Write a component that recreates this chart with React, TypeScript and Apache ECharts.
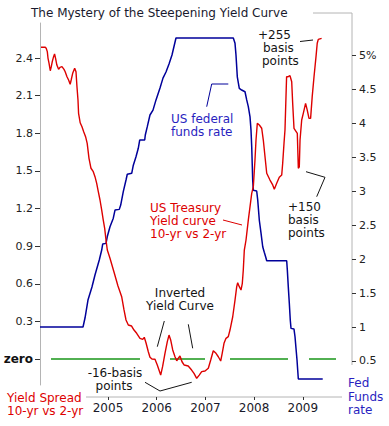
import React, { useEffect, useRef } from "react";
import * as echarts from "echarts";

// Yield spread 10-yr minus 2-yr (percentage points), [year, value]
const spreadPoints: [number, number][] = [
  [2003.624, 2.486], [2003.712, 2.486], [2003.731, 2.478], [2003.754, 2.451], [2003.768, 2.4],
  [2003.789, 2.36], [2003.815, 2.299], [2003.835, 2.329], [2003.856, 2.371], [2003.883, 2.411],
  [2003.903, 2.432], [2003.924, 2.398], [2003.95, 2.344], [2003.986, 2.31], [2004.014, 2.326],
  [2004.055, 2.331], [2004.097, 2.31], [2004.121, 2.291], [2004.158, 2.251], [2004.191, 2.225],
  [2004.224, 2.191], [2004.244, 2.225], [2004.275, 2.278], [2004.316, 2.318], [2004.343, 2.291],
  [2004.363, 2.171], [2004.384, 2.065], [2004.396, 1.959], [2004.429, 1.884], [2004.466, 1.852],
  [2004.501, 1.813], [2004.54, 1.773], [2004.573, 1.72], [2004.61, 1.6], [2004.651, 1.521],
  [2004.698, 1.494], [2004.733, 1.454], [2004.768, 1.401], [2004.801, 1.334], [2004.836, 1.268],
  [2004.871, 1.188], [2004.903, 1.108], [2004.932, 1.042], [2004.959, 0.949], [2004.986, 0.869],
  [2005.041, 0.803], [2005.123, 0.694], [2005.205, 0.582], [2005.246, 0.537], [2005.281, 0.497],
  [2005.329, 0.391], [2005.37, 0.311], [2005.417, 0.271], [2005.485, 0.263], [2005.534, 0.231],
  [2005.589, 0.205], [2005.657, 0.165], [2005.713, 0.157], [2005.745, 0.173], [2005.78, 0.13],
  [2005.828, 0.058], [2005.862, 0.014], [2005.903, 0.0], [2005.965, -0.002], [2006.012, -0.048],
  [2006.047, -0.088], [2006.082, -0.128], [2006.121, -0.061], [2006.17, 0.045], [2006.218, 0.138],
  [2006.253, 0.191], [2006.287, 0.152], [2006.329, 0.072], [2006.376, 0.018], [2006.411, -0.014],
  [2006.444, 0.006], [2006.478, 0.024], [2006.52, -0.022], [2006.565, -0.048], [2006.647, -0.056],
  [2006.717, -0.088], [2006.766, -0.114], [2006.821, -0.154], [2006.873, -0.128], [2006.924, -0.101],
  [2006.992, -0.096], [2007.06, -0.074], [2007.109, -0.008], [2007.162, 0.066], [2007.218, 0.045],
  [2007.265, 0.018], [2007.314, -0.016], [2007.345, 0.045], [2007.382, 0.125], [2007.423, 0.165],
  [2007.47, 0.178], [2007.505, 0.231], [2007.561, 0.337], [2007.608, 0.47], [2007.643, 0.577],
  [2007.663, 0.608], [2007.696, 0.577], [2007.731, 0.55], [2007.758, 0.604], [2007.778, 0.71],
  [2007.799, 0.869], [2007.834, 0.949], [2007.881, 1.108], [2007.951, 1.321], [2007.984, 1.374],
  [2008.018, 1.587], [2008.039, 1.746], [2008.066, 1.88], [2008.107, 1.866], [2008.156, 1.84],
  [2008.189, 1.746], [2008.224, 1.613], [2008.259, 1.481], [2008.326, 1.427], [2008.382, 1.388],
  [2008.415, 1.353], [2008.464, 1.401], [2008.517, 1.449], [2008.567, 1.467], [2008.587, 1.561],
  [2008.614, 1.72], [2008.634, 1.826], [2008.667, 2.251], [2008.7, 2.251], [2008.737, 2.259],
  [2008.772, 2.211], [2008.792, 2.039], [2008.819, 1.84], [2008.887, 1.8], [2008.908, 1.521],
  [2008.928, 1.533], [2008.943, 1.746], [2008.977, 1.906], [2009.01, 1.959], [2009.057, 2.039],
  [2009.09, 1.986], [2009.127, 1.919], [2009.16, 1.919], [2009.193, 2.092], [2009.23, 2.251],
  [2009.271, 2.411], [2009.296, 2.518], [2009.318, 2.549], [2009.386, 2.557],
];

// US federal funds rate (%), [year, value]
const fedPoints: [number, number][] = [
  [2003.604, 1.0], [2004.487, 1.0], [2004.528, 1.132], [2004.589, 1.397], [2004.671, 1.588],
  [2004.733, 1.765], [2004.821, 1.985], [2004.871, 2.132], [2004.891, 2.22], [2004.959, 2.23],
  [2004.986, 2.33], [2005.041, 2.475], [2005.109, 2.6], [2005.144, 2.72], [2005.232, 2.73],
  [2005.261, 2.794], [2005.314, 2.99], [2005.37, 3.162], [2005.396, 3.246], [2005.487, 3.26],
  [2005.52, 3.38], [2005.575, 3.504], [2005.622, 3.628], [2005.651, 3.75], [2005.754, 3.75],
  [2005.766, 3.824], [2005.807, 3.946], [2005.862, 4.118], [2005.924, 4.19], [2005.986, 4.34],
  [2006.068, 4.515], [2006.129, 4.66], [2006.191, 4.75], [2006.253, 4.868], [2006.314, 5.0],
  [2006.396, 5.25], [2007.573, 5.25], [2007.608, 5.172], [2007.628, 5.0], [2007.655, 4.68],
  [2007.696, 4.51], [2007.745, 4.485], [2007.813, 4.46], [2007.848, 4.34], [2007.881, 4.24],
  [2007.916, 4.09], [2007.936, 3.9], [2007.951, 3.65], [2007.963, 3.36], [2007.971, 3.16],
  [2007.984, 3.01], [2008.053, 3.0], [2008.074, 2.87], [2008.107, 2.57], [2008.142, 2.38],
  [2008.177, 2.18], [2008.209, 2.1], [2008.238, 2.03], [2008.259, 1.975], [2008.669, 1.975],
  [2008.682, 1.84], [2008.702, 1.59], [2008.723, 1.35], [2008.743, 1.1], [2008.758, 0.98],
  [2008.819, 0.97], [2008.84, 0.857], [2008.86, 0.687], [2008.881, 0.515], [2008.895, 0.368],
  [2008.908, 0.235], [2009.409, 0.235],
];

// Zero reference line segments (start year, end year)
const zeroSegments: [number, number][] = [
  [2003.83, 2005.657], [2006.273, 2006.992], [2007.505, 2008.696], [2009.127, 2009.682],
];

const yearTicks = [2005, 2006, 2007, 2008, 2009];
const spreadTicks = [0, 0.3, 0.6, 0.9, 1.2, 1.5, 1.8, 2.1, 2.4];
const rateTicks = [0.5, 1, 1.5, 2, 2.5, 3, 3.5, 4, 4.5, 5];

const FONT = "Verdana, 'DejaVu Sans', sans-serif";
const RED = "#dd0000";
const BLUE = "#00009a";
const TXT_BLUE = "#2a1fc0";
const GREEN = "#1a961a";
const GRAY = "#b4b4b4";
const DARK = "#141414";

function txt(text: string, x: number, y: number, fill: string, align = "left", size = 12) {
  return {
    type: "text",
    x,
    y,
    silent: true,
    style: {
      text,
      fill,
      font: `${size}px ${FONT}`,
      textAlign: align,
      textVerticalAlign: "middle",
    },
  };
}

function pl(points: number[][], stroke: string, width = 1) {
  return {
    type: "polyline",
    silent: true,
    shape: { points },
    style: { stroke, lineWidth: width, fill: "none" },
  };
}

export default function App() {
  const ref = useRef<HTMLDivElement>(null);

  useEffect(() => {
    if (!ref.current) return;
    const chart = echarts.init(ref.current, null, { renderer: "svg" });

    const zeroData: (number | null)[][] = [];
    zeroSegments.forEach(([a, b], i) => {
      if (i > 0) zeroData.push([(a + zeroSegments[i - 1][1]) / 2, null as any]);
      zeroData.push([a, 0]);
      zeroData.push([b, 0]);
    });

    const option: any = {
      animation: false,
      grid: { left: 40, right: 37, top: 23, bottom: 41, containLabel: false },
      xAxis: {
        type: "value",
        min: 2003.604,
        max: 2010.01,
        offset: 12,
        axisLine: { show: false, onZero: false },
        axisTick: { show: true, length: 3, lineStyle: { color: "#333" }, customValues: yearTicks },
        axisLabel: {
          customValues: yearTicks,
          formatter: (v: number) => String(Math.round(v)),
          fontSize: 12,
          color: "#1a1a2a",
          margin: 5,
          fontFamily: FONT,
        },
        splitLine: { show: false },
      },
      yAxis: [
        {
          type: "value",
          min: -0.2073,
          max: 2.6794,
          position: "left",
          axisLine: { show: true, onZero: false, lineStyle: { color: GRAY, width: 1 } },
          axisTick: { show: true, length: 5, lineStyle: { color: "#333" }, customValues: spreadTicks },
          axisLabel: {
            customValues: spreadTicks,
            formatter: (v: number) => (Math.abs(v) < 1e-9 ? "{z|zero}" : v.toFixed(1)),
            rich: { z: { fontWeight: "bold", fontSize: 12, color: "#111", fontFamily: FONT } },
            fontSize: 11,
            color: "#222",
            margin: 7,
            fontFamily: FONT,
          },
          splitLine: { show: false },
        },
        {
          type: "value",
          min: 0.147,
          max: 5.471,
          position: "right",
          axisLine: { show: false, onZero: false },
          axisTick: { show: true, length: 4, lineStyle: { color: "#333" }, customValues: rateTicks },
          axisLabel: {
            customValues: rateTicks,
            formatter: (v: number) => (Math.abs(v - 5) < 1e-9 ? "5%" : String(v)),
            fontSize: 11,
            color: "#222",
            margin: 7,
            fontFamily: FONT,
          },
          splitLine: { show: false },
        },
      ],
      series: [
        {
          type: "line",
          name: "zero",
          yAxisIndex: 0,
          data: zeroData,
          showSymbol: false,
          connectNulls: false,
          lineStyle: { color: GREEN, width: 1.3 },
          silent: true,
          z: 1,
        },
        {
          type: "line",
          name: "Fed Funds rate",
          yAxisIndex: 1,
          data: fedPoints,
          showSymbol: false,
          lineStyle: { color: BLUE, width: 1.5 },
          silent: true,
          z: 2,
        },
        {
          type: "line",
          name: "Yield Spread",
          yAxisIndex: 0,
          data: spreadPoints,
          showSymbol: false,
          lineStyle: { color: RED, width: 1.4 },
          silent: true,
          z: 3,
        },
      ],
      graphic: [
        txt("The Mystery of the Steepening Yield Curve", 31, 13, "#1a1a2e", "left", 12),
        pl([[313, 13], [352, 13], [352, 365]], GRAY),
        pl([[86, 397], [342, 397]], GRAY),
        // +255 basis points
        txt("+255", 258, 35, DARK),
        txt("basis", 263, 48, DARK),
        txt("points", 262, 61, DARK),
        pl([[300, 41.5], [313, 40]], DARK),
        // US federal funds rate
        txt("US federal", 171, 119, TXT_BLUE),
        txt("funds rate", 171, 132, TXT_BLUE),
        pl([[206.7, 106.7], [211.7, 84], [228.3, 84]], BLUE),
        // US Treasury yield curve
        txt("US Treasury", 150, 208, RED),
        txt("Yield curve", 150, 221, RED),
        txt("10-yr vs 2-yr", 150, 234, RED),
        pl([[223, 220], [242, 225]], RED),
        // +150 basis points
        txt("+150", 288, 207, DARK),
        txt("basis", 288, 220, DARK),
        txt("points", 288, 233, DARK),
        pl([[306, 171.7], [325, 177.3], [316.7, 196.7]], DARK),
        // Inverted yield curve
        txt("Inverted", 180, 293, DARK, "center"),
        txt("Yield Curve", 180, 306, DARK, "center"),
        pl([[164.3, 321], [157.3, 346.7]], DARK),
        pl([[188.3, 324.3], [192.7, 348.3]], DARK),
        // -16 basis points
        txt("-16-basis", 115, 373, DARK, "center"),
        txt("points", 114, 386, DARK, "center"),
        pl([[145, 382.3], [160, 391], [191.7, 382.3]], DARK),
        // axis titles
        txt("Yield Spread", 7, 398, RED),
        txt("10-yr vs 2-yr", 7, 411, RED),
        txt("Fed", 348, 383, TXT_BLUE),
        txt("Funds", 348, 396.5, TXT_BLUE),
        txt("rate", 348, 409.5, TXT_BLUE),
      ],
    };

    chart.setOption(option);
    return () => chart.dispose();
  }, []);

  return (
    <div
      ref={ref}
      style={{ position: "absolute", left: 0, top: 0, width: 389, height: 426, background: "#fff" }}
    />
  );
}
